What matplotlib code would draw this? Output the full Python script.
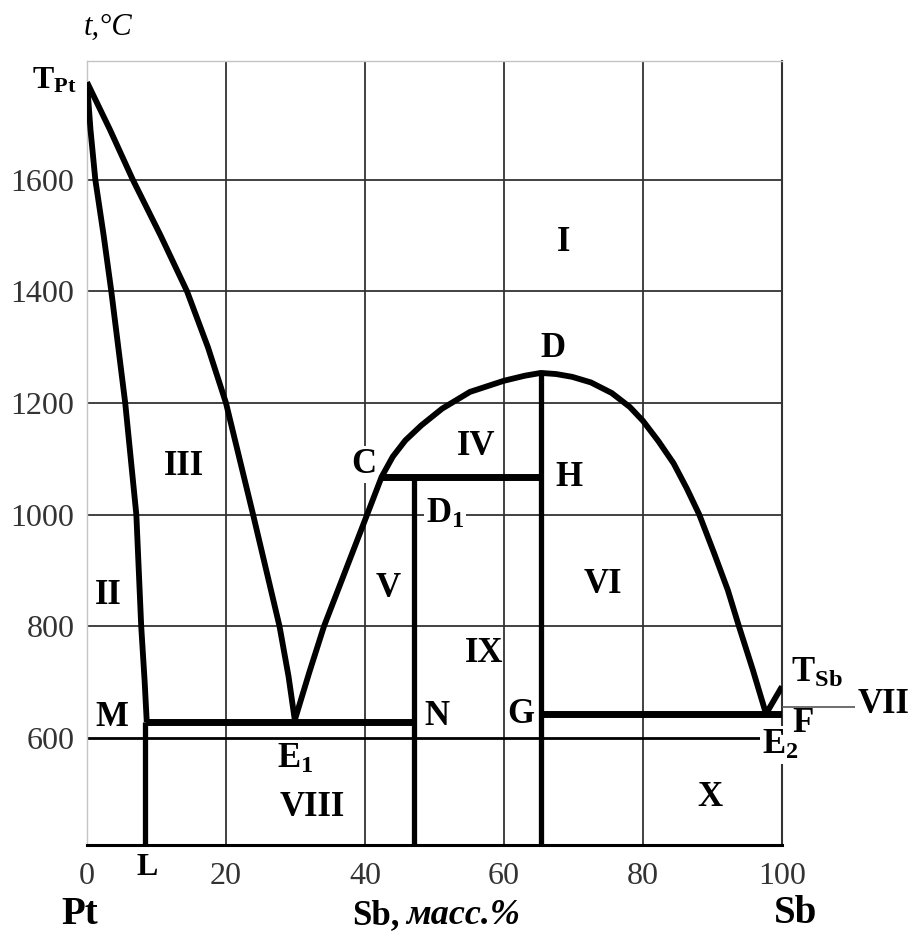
import matplotlib
matplotlib.use("Agg")
import matplotlib.pyplot as plt

# Pt - Sb phase diagram (Sb, mass %; t, C)

# liquidus from T_Pt down to the eutectic E1
liq_pt_x = [0, 3.3, 6.6, 10.6, 14.4, 17.4, 20.0, 23.9, 27.7, 29.0, 29.9]
liq_pt_t = [1775, 1690, 1600, 1500, 1400, 1300, 1200, 1000, 800, 710, 632]

# solidus of the Pt solid solution (T_Pt - M)
sol_pt_x = [0, 0.5, 1.2, 2.4, 3.5, 5.5, 7.1, 7.8, 8.3, 8.6]
sol_pt_t = [1775, 1690, 1600, 1500, 1400, 1200, 1000, 800, 700, 628]

# liquidus E1 - C - D - E2
liq_x = [29.9, 32.0, 34.1, 37.2, 40.3, 42.4, 44.0, 45.8, 48.1, 51.1, 55.1,
         60.0, 63.0, 65.3, 67.5, 69.8, 72.5, 75.5, 78.1, 80.0, 82.2, 84.4,
         86.3, 88.1, 90.2, 92.2, 93.8, 95.8, 97.7]
liq_t = [632, 718, 800, 900, 1000, 1068, 1104, 1133, 1160, 1190, 1220,
         1240, 1249, 1254, 1252, 1247, 1237, 1218, 1193, 1168, 1132, 1092,
         1047, 1000, 932, 865, 800, 722, 643]

# short branch E2 - T_Sb
sb_x = [97.7, 100]
sb_t = [643, 692]

# horizontal invariant lines: M-N, C-H, G-F
hor_x0 = [8.3, 42.4, 65.3]
hor_x1 = [47.1, 65.3, 100]
hor_t = [628, 1068, 643]

# vertical lines: L, N (D1), D-G
vert_x = [8.3, 47.1, 65.3]
vert_top = [628, 1068, 1254]

t_vii = 655

x_ticks = [0, 20, 40, 60, 80, 100]
t_ticks = [600, 800, 1000, 1200, 1400, 1600]

# phase regions
reg_names = ['I', 'II', 'III', 'IV', 'V', 'VI', 'VIII', 'IX', 'X']
reg_x = [68.6, 3.0, 14.0, 56.0, 43.4, 74.2, 32.4, 57.2, 89.6]
reg_t = [1488, 855, 1086, 1122, 867, 874, 475, 752, 493]

# points
pt_names = ['C', 'D', r'$\mathbf{D_1}$', 'H', 'M', 'N', 'G',
            r'$\mathbf{E_1}$', r'$\mathbf{E_2}$', 'F']
pt_x = [39.9, 67.0, 51.5, 69.4, 3.5, 50.3, 62.4, 29.9, 99.7, 103.0]
pt_t = [1090, 1298, 1000, 1066, 637, 638, 642, 561, 587, 626]

plt.rcParams['font.family'] = ['Liberation Serif', 'DejaVu Serif']
plt.rcParams['mathtext.fontset'] = 'custom'
plt.rcParams['mathtext.rm'] = 'Liberation Serif'
plt.rcParams['mathtext.bf'] = 'Liberation Serif:bold'
plt.rcParams['mathtext.it'] = 'Liberation Serif:italic'

fig = plt.figure(figsize=(9.09, 9.36), dpi=100)
ax = fig.add_axes([87 / 909, 91 / 936, 695 / 909, 784 / 936])
ax.set_xlim(0, 100)
ax.set_ylim(408, 1813)

ax.set_xticks(x_ticks)
ax.set_yticks(t_ticks)
ax.tick_params(length=0, labelsize=23, colors='#333333')
ax.tick_params(axis='x', pad=12)
ax.tick_params(axis='y', pad=9)

ax.set_axisbelow(True)
ax.grid(True, color='#333333', lw=1.3)
ax.get_xgridlines()[0].set_color('#c4c4c4')
ax.get_ygridlines()[0].set_color('black')
ax.get_ygridlines()[0].set_linewidth(2.0)

for s in ['left', 'top']:
    ax.spines[s].set_color('#c4c4c4')
    ax.spines[s].set_linewidth(1.0)
ax.spines['right'].set_color('#333333')
ax.spines['right'].set_linewidth(1.5)
ax.spines['bottom'].set_color('black')
ax.spines['bottom'].set_linewidth(2.2)

# curves
kw = dict(color='black', lw=4.2, solid_joinstyle='round', solid_capstyle='butt', zorder=4)
ax.plot(liq_pt_x, liq_pt_t, **kw)
ax.plot(sol_pt_x, sol_pt_t, **kw)
ax.plot(liq_x, liq_t, **kw)
ax.plot(sb_x, sb_t, **kw)

ax.hlines(hor_t, hor_x0, hor_x1, color='black', lw=5, zorder=4)
ax.vlines(vert_x, 408, vert_top, color='black', lw=3.8, zorder=4)
ax.hlines(t_vii, 100, 110.5, color='#555555', lw=1.2, clip_on=False, zorder=4)

box = dict(facecolor='white', edgecolor='none', pad=1.5)
lab = dict(fontsize=25, fontweight='bold', ha='center', va='center', zorder=3)

for name, x, t in zip(reg_names, reg_x, reg_t):
    ax.text(x, t, name, **lab)
ax.text(110.9, 659, 'VII', fontsize=25, fontweight='bold', ha='left',
        va='center', clip_on=False)

for name, x, t in zip(pt_names, pt_x, pt_t):
    ax.text(x, t, name, bbox=box, clip_on=False, **lab)

ax.text(101.3, 716, r'$\mathbf{T_{Sb}}$', fontsize=25, ha='left', va='center',
        clip_on=False, zorder=3)
ax.text(-4.7, 1777, r'$\mathbf{T_{Pt}}$', fontsize=23, ha='center', va='center',
        clip_on=False)
ax.text(3.0, 1874, 't,°C', fontsize=22, fontstyle='italic', ha='center',
        va='center', clip_on=False)
ax.text(8.6, 367, 'L', fontsize=23, fontweight='bold', ha='center', va='center',
        clip_on=False)

# axis names under the ticks
ax.text(-1.0, 283, 'Pt', fontsize=28, fontweight='bold', ha='center', va='center',
        clip_on=False)
ax.text(101.9, 285, 'Sb', fontsize=28, fontweight='bold', ha='center', va='center',
        clip_on=False)
t1 = ax.text(45.0, 252, 'Sb,', fontsize=25, fontweight='bold', ha='right',
             va='bottom', clip_on=False)
ax.annotate('масс.%', xy=(1, 0), xycoords=t1, xytext=(5, 0),
            textcoords='offset points', ha='left', va='bottom', fontsize=26,
            fontweight='bold', fontstyle='italic')

fig.savefig('out.png', dpi=100)
